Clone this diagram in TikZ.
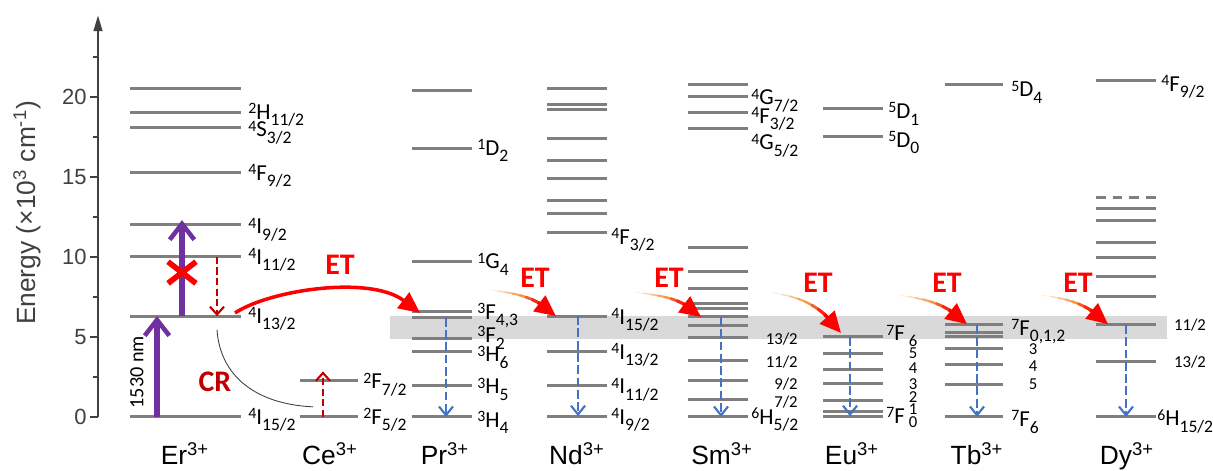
\documentclass[tikz,border=0pt]{standalone}
\usepackage{fontspec}
\setmainfont{Carlito}
\newfontfamily\arialfont{Liberation Sans}
\usepackage{xcolor}
\usepackage{tikz}
\usetikzlibrary{arrows.meta, calc}
\definecolor{lvlgray}{RGB}{127,127,127}
\definecolor{axgray}{RGB}{64,64,64}
\definecolor{bandgray}{RGB}{217,217,217}
\definecolor{pumppurple}{RGB}{112,48,160}
\definecolor{crred}{RGB}{192,0,0}
\definecolor{etred}{RGB}{255,0,0}
\definecolor{decblue}{RGB}{68,114,196}
\definecolor{etorange}{RGB}{247,150,70}
% term symbol ^{2S+1}L_J
\newcommand{\term}[3]{\raisebox{3.2pt}{\fontsize{9}{9}\selectfont #1}#2\raisebox{-3.7pt}{\fontsize{10}{10}\selectfont #3}}
\tikzset{
  level/.style={draw=lvlgray, line width=1.7pt},
  lbl/.style={anchor=base west, inner sep=0pt, yshift=-4.1pt,
    font=\fontsize{13}{14}\selectfont},
  jnum/.style={anchor=base, inner sep=0pt, yshift=-3.3pt,
    font=\fontsize{9.5}{10}\selectfont},
  jnumr/.style={jnum, anchor=base east},
  ion/.style={anchor=base, inner sep=0pt, font=\arialfont\fontsize{15}{16}\selectfont},
  tick/.style={anchor=east, inner sep=0pt, text=axgray,
    font=\arialfont\fontsize{12.5}{14}\selectfont},
  axis/.style={draw=axgray, line width=1.1pt, -{Triangle[length=9pt, width=5pt]}},
  pump/.style={draw=pumppurple, line width=3pt,
    -{Straight Barb[length=9pt, width=14pt, line width=2.6pt]}},
  crarrow/.style={draw=crred, line width=1.2pt, dash pattern=on 4pt off 2pt,
    -{Straight Barb[length=4.5pt, width=8pt, line width=1.2pt]}},
  decay/.style={draw=decblue, line width=1.2pt, dash pattern=on 5pt off 2pt,
    -{Straight Barb[length=5pt, width=8pt, line width=1.2pt]}},
  etlbl/.style={inner sep=0pt, text=etred, font=\bfseries\fontsize{17}{18}\selectfont},
  ethead/.style={draw=etred, line width=2pt, -{Triangle[length=12pt, width=11pt]}}
}
% tapered orange-to-red transfer arrow: start, tip, entry angle
\newcommand{\etarrow}[3]{%
  \path (#1) to[out=-8,in=#3]
    coordinate[pos=0.1] (g1) coordinate[pos=0.2] (g2) coordinate[pos=0.3] (g3)
    coordinate[pos=0.4] (g4) coordinate[pos=0.5] (g5) coordinate[pos=0.6] (g6)
    coordinate[pos=0.7] (g7) (#2);
  \coordinate (g0) at (#1);
  \foreach \i/\j/\c/\w in {0/1/etorange!15/0.6, 1/2/etorange!35/0.8, 2/3/etorange!60/1.0,
      3/4/etorange!85/1.2, 4/5/etorange/1.4, 5/6/red!40!etorange/1.6, 6/7/red!75!etorange/1.8}
    \draw[color=\c, line width=\w pt, line cap=round] (g\i) -- (g\j);
  \draw[ethead] (g7) -- (#2);
}

\begin{document}
\begin{tikzpicture}[x=0.02cm, y=0.32cm]
  \useasboundingbox (0,-3.375) rectangle (1213,26.0625);
  % Grey band of the accepting levels
  \fill[bandgray] (390,4.875) rectangle (1167,6.3);

  % Energy axis
  \draw[axis] (98,0) -- (98,25.1);
  \foreach \e in {0,5,10,15,20} {
    \draw[axgray, line width=1.1pt] (90,\e) -- (98,\e);
    \node[tick] (t\e) at (87,\e) {\e};
  }
  \foreach \e in {2.5,7.5,12.5,17.5,22.5}
    \draw[axgray, line width=1.1pt] (93,\e) -- (98,\e);
  \node[rotate=90, text=axgray, font=\arialfont\fontsize{15}{16}\selectfont] (elab) at (27,12.75)
    {Energy (×10\textsuperscript{3} cm\textsuperscript{-1})};

  % Er3+
  \foreach \e in {0,6.3,10,12.05,15.3,18.1,19,20.5}
    \draw[level] (130,\e) -- (241,\e);
  \node[lbl] (er1) at (248,19.05) {\term{2}{H}{11/2}};
  \node[lbl] (er2) at (248,17.95) {\term{4}{S}{3/2}};
  \node[lbl] (er3) at (248,15.25) {\term{4}{F}{9/2}};
  \node[lbl] (er4) at (248,11.9) {\term{4}{I}{9/2}};
  \node[lbl] (er5) at (248,10.0) {\term{4}{I}{11/2}};
  \node[lbl] (er6) at (248,6.3) {\term{4}{I}{13/2}};
  \node[lbl] (er7) at (248,0) {\term{4}{I}{15/2}};

  % Ce3+
  \foreach \e in {0,2.25}
    \draw[level] (300,\e) -- (358,\e);
  \node[lbl] (ce1) at (363,2.2) {\term{2}{F}{7/2}};
  \node[lbl] (ce2) at (363,0) {\term{2}{F}{5/2}};

  % Pr3+
  \foreach \e in {0,1.95,4.1,4.9,6.2,6.6,9.7,16.8,20.4}
    \draw[level] (412,\e) -- (472,\e);
  \node[lbl] (pr1) at (477,16.8) {\term{1}{D}{2}};
  \node[lbl] (pr2) at (477,9.7) {\term{1}{G}{4}};
  \node[lbl] (pr3) at (477,6.55) {\term{3}{F}{4,3}};
  \node[lbl] (pr4) at (477,5.1) {\term{3}{F}{2}};
  \node[lbl] (pr5) at (477,3.9) {\term{3}{H}{6}};
  \node[lbl] (pr6) at (477,1.9) {\term{3}{H}{5}};
  \node[lbl] (pr7) at (477,-0.2) {\term{3}{H}{4}};

  % Nd3+
  \foreach \e in {0,1.95,4.1,6.3,11.5,12.7,13.5,14.9,16.05,17.4,19.2,19.55,20.55}
    \draw[level] (547,\e) -- (607,\e);
  \node[lbl] (nd1) at (611,11.25) {\term{4}{F}{3/2}};
  \node[lbl] (nd2) at (611,6.25) {\term{4}{I}{15/2}};
  \node[lbl] (nd3) at (611,4.05) {\term{4}{I}{13/2}};
  \node[lbl] (nd4) at (611,1.9) {\term{4}{I}{11/2}};
  \node[lbl] (nd5) at (611,0) {\term{4}{I}{9/2}};

  % Sm3+
  \foreach \e in {0,1.1,2.25,3.55,4.95,5.7,6.25,6.75,7.1,8.0,9.1,10.6,18.05,19.05,20.05,20.8}
    \draw[level] (688,\e) -- (748,\e);
  \node[lbl] (sm1) at (751,19.95) {\term{4}{G}{7/2}};
  \node[lbl] (sm2) at (751,18.8) {\term{4}{F}{3/2}};
  \node[lbl] (sm3) at (751,17.15) {\term{4}{G}{5/2}};
  \node[lbl] (sm4) at (751,0) {\term{6}{H}{5/2}};
  \foreach \j/\e in {13/4.9, 11/3.45, 9/2.1, 7/0.95}
    \node[jnumr] (smj\j) at (798,\e) {\j/2};

  % Eu3+
  \foreach \e in {0,0.35,1.05,2.1,2.95,3.95,5.0,17.5,19.25}
    \draw[level] (823,\e) -- (883,\e);
  \node[lbl] (eu1) at (888,19.1) {\term{5}{D}{1}};
  \node[lbl] (eu2) at (888,17.3) {\term{5}{D}{0}};
  \node[lbl] (eu3) at (886,5.2) {\term{7}{F}{}};
  \node[lbl] (eu4) at (886,0.05) {\term{7}{F}{}};
  \foreach \d/\e in {6/4.75, 5/4.0, 4/3.05, 3/2.1, 2/1.25, 1/0.5, 0/-0.3}
    \node[jnum] (euj\d) at (913,\e) {\d};

  % Tb3+
  \foreach \e in {0,2.0,3.25,4.3,5.0,5.3,5.75,20.75}
    \draw[level] (945,\e) -- (1003,\e);
  \node[lbl] (tb1) at (1011,20.45) {\term{5}{D}{4}};
  \node[lbl] (tb2) at (1011,5.55) {\term{7}{F}{0,1,2}};
  \node[lbl] (tb3) at (1011,-0.15) {\term{7}{F}{6}};
  \foreach \d/\e in {3/4.25, 4/3.2, 5/2.06}
    \node[jnum] (tbj\d) at (1033,\e) {\d};

  % Dy3+
  \foreach \e in {0,3.45,5.75,7.55,8.8,9.95,10.9,12.3,13.0,21.05}
    \draw[level] (1096,\e) -- (1156,\e);
  \draw[level, dash pattern=on 5.5pt off 4pt] (1096,13.7) -- (1156,13.7);
  \node[lbl] (dy1) at (1161,20.8) {\term{4}{F}{9/2}};
  \node[lbl] (dy2) at (1157,-0.1) {\term{6}{H}{15/2}};
  \node[jnum] (dyj11) at (1190,5.75) {11/2};
  \node[jnum] (dyj13) at (1190,3.45) {13/2};

  % Ion names
  \node[ion] (er) at (185,-3.0) {Er\textsuperscript{3+}};
  \node[ion] (ce) at (330,-3.0) {Ce\textsuperscript{3+}};
  \node[ion] (pr) at (445,-3.0) {Pr\textsuperscript{3+}};
  \node[ion] (nd) at (577,-3.0) {Nd\textsuperscript{3+}};
  \node[ion] (sm) at (722,-3.0) {Sm\textsuperscript{3+}};
  \node[ion] (eu) at (852,-3.0) {Eu\textsuperscript{3+}};
  \node[ion] (tb) at (977,-3.0) {Tb\textsuperscript{3+}};
  \node[ion] (dy) at (1127,-3.0) {Dy\textsuperscript{3+}};

  % Excitation at 1530 nm and blocked upconversion
  \coordinate (pa) at (157,0);
  \coordinate (pb) at (157,6.3);
  \coordinate (pc) at (182,6.3);
  \coordinate (pd) at (182,12.3);
  \draw[pump] (pa) -- (pb);
  \draw[pump] (pc) -- (pd);
  \node[rotate=90, inner sep=0pt, font=\fontsize{11.5}{13}\selectfont] (nm) at (137,2.8) {1530 nm};
  \draw[etred, line width=3.2pt] (168,8.35) -- (196,9.7) (168,9.7) -- (196,8.35);

  % Cross relaxation with Ce3+
  \coordinate (ca) at (217,10);
  \coordinate (cb) at (217,6.3);
  \coordinate (cc) at (323,0);
  \coordinate (cd) at (323,2.85);
  \draw[crarrow] (ca) -- (cb);
  \draw[crarrow] (cc) -- (cd);
  \coordinate (la) at (217,5.45);
  \coordinate (lb) at (313,0.63);
  \draw[axgray, line width=0.5pt] (la) .. controls (220,2.6) and (255,0.8) .. (lb);
  \node[etlbl, text=crred] (cr) at (215,2.2) {CR};

  % Energy transfer Er -> Pr
  \coordinate (ea) at (235,6.5);
  \coordinate (eb) at (420,6.5);
  \draw[ethead] (ea) .. controls (270,7.94) and (370,8.875) .. (eb);
  \node[etlbl] (et1) at (340,9.5) {ET};

  % Energy transfer Er -> Nd ... Dy
  \etarrow{490,7.94}{556,6.3}{135}
  \etarrow{635,7.8}{701,6.25}{135}
  \etarrow{773,7.75}{841,5.25}{125}
  \etarrow{900,7.6}{967,5.8}{135}
  \etarrow{1043,7.6}{1108,5.8}{135}
  \node[etlbl] (et2) at (535,8.7) {ET};
  \node[etlbl] (et3) at (669,8.7) {ET};
  \node[etlbl] (et4) at (818,8.4) {ET};
  \node[etlbl] (et5) at (947,8.4) {ET};
  \node[etlbl] (et6) at (1078,8.4) {ET};

  % Radiative decays
  \foreach \x/\e/\f in {446/6.2/0, 578/6.3/0.05, 721/6.25/0, 850/5.0/0.05, 977/5.75/0, 1126/5.75/0} {
    \coordinate (da\x) at (\x,\e);
    \coordinate (db\x) at (\x,\f);
    \draw[decay] (da\x) -- (db\x);
  }
\end{tikzpicture}
\end{document}
